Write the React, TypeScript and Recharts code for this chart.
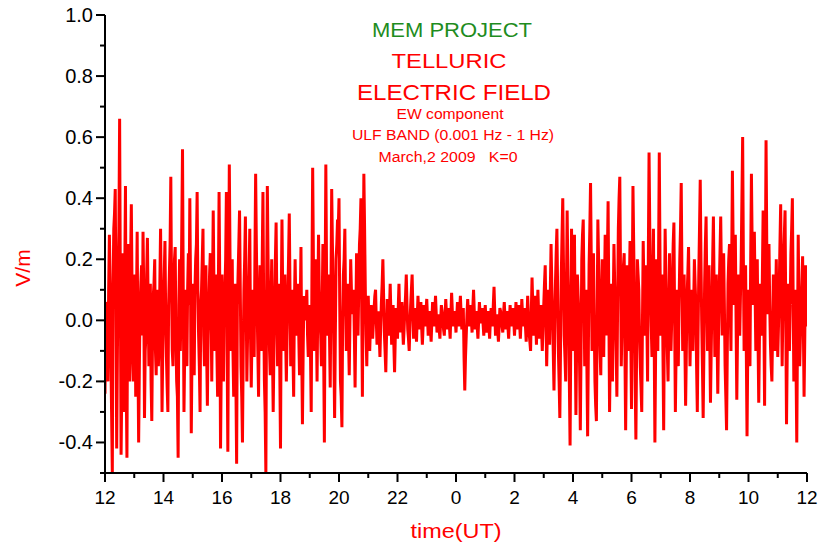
import { LineChart, Line, XAxis, YAxis } from "recharts";

// EW component, sampled every 1.5 minutes starting 12:00 UT on March 1.
// The main samples sit on the 3-minute grid, the "half" samples fall between them.
const startHour = 12;
const stepHours = 0.05;

const ew12to18 = [
  -0.24, 0.06, -0.2, 0.28, -0.1, -0.5, 0.3, 0.43, -0.42, 0.15, 0.66, -0.44, 0.22, -0.3, 0.44, -0.45, 0.25, -0.2, 0.38, -0.12,
  0.1, -0.25, 0.29, -0.4, 0.05, 0.18, 0.29, -0.32, -0.05, 0.27, -0.15, 0.12, -0.33, 0.08, 0.2, -0.18, 0.1, -0.08, 0.3, -0.3,
  0.05, 0.26, -0.12, -0.3, 0.15, 0.47, -0.1, 0.08, 0.24, -0.2, -0.45, 0.2, 0.05, 0.56, -0.3, 0.1, -0.15, 0.22, 0.4, -0.37,
  0.12, -0.18, 0.2, 0.42, -0.05, -0.3, 0.1, 0.3, -0.15, 0.18, -0.28, 0.05, 0.22, -0.2, 0.36, -0.1, 0.15, -0.25, 0.42, -0.42,
  0.15, -0.2, 0.1, 0.42, -0.43, 0.51, -0.1, 0.2, -0.25, 0.12, -0.47, 0.15, 0.36, -0.15, -0.4, 0.1, 0.34, -0.2, 0.05, 0.3,
  -0.22, 0.1, -0.12, 0.48, 0.05, -0.25, 0.18, -0.1, 0.42, -0.2, -0.5, 0.44, 0.02, -0.18, 0.2, -0.3, 0.05, 0.32, -0.15, 0.12,
];

const ew18to24 = [
  -0.42, 0.33, -0.1, 0.15, -0.2, 0.08, 0.35, -0.15, 0.1, -0.25, 0.2, -0.05, 0.12, -0.18, 0.24, -0.34, 0.08, 0.0, 0.1, -0.12,
  0.05, -0.3, 0.5, -0.1, 0.2, -0.2, 0.28, 0.0, -0.15, 0.25, -0.4, 0.51, -0.05, 0.15, -0.22, 0.43, 0.1, -0.32, 0.2, 0.33,
  0.4, -0.2, -0.35, 0.15, 0.3, -0.1, 0.12, -0.18, 0.2, 0.02, 0.1, -0.22, 0.22, -0.05, 0.25, 0.4, -0.25, 0.48, 0.1, -0.15,
  0.08, -0.1, 0.05, -0.06, 0.04, 0.1, -0.08, 0.03, -0.12, 0.06, 0.2, -0.04, -0.17, 0.07, -0.05, 0.12, -0.08, 0.05, -0.17, 0.04,
  -0.06, 0.12, -0.04, 0.06, -0.08, 0.03, 0.15, -0.03, -0.1, 0.05, 0.15, -0.06, 0.04, -0.07, 0.08, -0.03, 0.06, -0.08, 0.05, -0.02,
  0.07, -0.05, 0.03, -0.07, 0.06, -0.02, 0.08, -0.04, 0.02, -0.06, 0.05, 0.0, -0.05, 0.07, -0.03, 0.04, -0.06, 0.09, -0.02, 0.03,
];

const ew00to06 = [
  -0.04, 0.06, -0.02, 0.08, -0.03, 0.04, -0.23, -0.05, 0.07, -0.02, 0.05, -0.04, 0.1, -0.03, 0.03, -0.06, 0.06, -0.01, 0.04, -0.05,
  0.05, -0.04, 0.03, -0.06, 0.04, -0.02, 0.11, -0.05, 0.02, -0.07, 0.04, 0.01, -0.04, 0.06, -0.03, 0.03, -0.06, 0.05, -0.02, 0.04,
  -0.05, 0.06, -0.03, 0.05, -0.06, 0.07, -0.02, 0.04, -0.07, 0.08, -0.04, -0.1, 0.14, -0.05, 0.08, -0.08, 0.1, -0.06, 0.05, -0.1,
  0.05, 0.18, -0.15, 0.1, -0.08, 0.25, 0.02, -0.23, 0.12, 0.3, -0.1, -0.32, 0.15, 0.4, -0.05, -0.2, 0.36, 0.05, -0.41, 0.3,
  -0.1, 0.28, -0.31, 0.15, 0.02, -0.36, 0.2, 0.33, -0.15, 0.1, -0.38, 0.18, 0.45, -0.1, 0.22, -0.2, -0.33, 0.33, 0.05, -0.18,
  0.2, -0.12, 0.28, -0.05, 0.39, -0.3, 0.12, -0.2, 0.25, 0.02, -0.25, 0.3, 0.47, -0.15, 0.1, 0.22, -0.36, 0.18, -0.1, 0.26,
];

const ew06to12 = [
  -0.29, 0.44, 0.05, -0.39, 0.2, 0.1, -0.15, -0.3, 0.26, -0.05, 0.18, -0.2, 0.55, 0.1, -0.12, 0.3, -0.4, 0.2, -0.1, 0.55,
  -0.05, 0.15, -0.36, 0.3, 0.02, -0.2, 0.22, -0.1, 0.12, 0.32, -0.3, 0.1, -0.15, 0.2, 0.45, -0.1, 0.15, -0.28, 0.08, 0.24,
  -0.15, 0.1, -0.1, 0.2, 0.05, -0.3, 0.15, 0.46, 0.0, -0.32, 0.12, 0.34, -0.1, 0.18, -0.27, 0.05, 0.34, -0.12, 0.15, -0.24,
  0.1, 0.34, -0.05, 0.22, -0.15, -0.36, 0.12, 0.25, -0.1, 0.49, 0.05, 0.28, -0.26, 0.15, -0.05, 0.2, 0.6, -0.1, 0.18, -0.38,
  0.1, -0.15, 0.48, 0.05, 0.29, -0.1, 0.2, -0.27, 0.12, -0.05, 0.36, -0.28, 0.59, 0.02, 0.25, -0.08, -0.2, 0.15, -0.1, 0.2,
  -0.12, 0.1, 0.38, -0.15, 0.2, 0.36, -0.34, 0.12, -0.1, 0.22, 0.4, -0.2, 0.1, -0.4, 0.28, -0.15, 0.05, 0.21, -0.25, 0.18, -0.02,
];

// half-step samples between the grid points above
const half12to18 = [
  0.05, -0.12, 0.1, 0.12, -0.3, 0.1, 0.35, 0.05, -0.1, 0.3, 0.1, -0.2, 0.05, 0.15, -0.2, 0.1, -0.05, 0.2, 0.1, -0.2,
  0.15, 0.05, -0.1, -0.15, 0.12, -0.05, 0.1, -0.1, 0.15, 0.05, -0.02, -0.2, -0.05, 0.12, -0.1, 0.05, -0.15, 0.12, 0.05, -0.1,
  0.15, 0.02, -0.22, 0.05, 0.25, 0.1, -0.15, 0.2, -0.05, -0.25, 0.05, -0.1, 0.3, 0.1, -0.1, -0.05, 0.1, 0.05, 0.1, -0.1,
  -0.05, 0.1, 0.25, 0.1, -0.15, 0.05, 0.2, -0.05, 0.05, -0.1, -0.05, 0.15, 0.05, 0.1, 0.1, 0.05, -0.1, 0.1, 0.1, -0.15,
  -0.05, 0.05, 0.2, -0.1, 0.1, 0.2, 0.05, -0.1, -0.05, -0.2, 0.05, 0.25, 0.1, -0.25, -0.1, 0.2, 0.1, -0.05, 0.15, -0.05,
  -0.05, 0.05, 0.2, 0.25, -0.1, 0.05, 0.05, 0.2, 0.05, -0.3, 0.1, 0.2, -0.1, 0.05, -0.1, -0.1, 0.2, 0.05, -0.05, -0.15,
];

const half18to24 = [
  0.05, 0.1, 0.05, -0.05, -0.05, 0.2, 0.1, 0.0, -0.1, 0.05, 0.05, 0.05, -0.05, 0.05, -0.1, -0.1, 0.05, 0.05, -0.05, -0.05,
  -0.1, 0.15, 0.2, 0.05, 0.0, 0.05, 0.1, -0.05, 0.05, -0.1, 0.1, 0.15, 0.05, -0.05, 0.1, 0.25, -0.1, -0.05, 0.25, 0.3,
  0.05, -0.25, 0.0, 0.2, 0.05, 0.02, -0.05, 0.0, 0.1, 0.05, -0.05, 0.0, 0.08, 0.1, 0.3, 0.05, 0.15, 0.3, -0.05, 0.0,
  -0.02, -0.02, 0.0, -0.01, 0.08, 0.0, -0.03, -0.05, -0.02, 0.12, 0.08, -0.1, -0.05, 0.0, 0.03, 0.02, -0.02, -0.08, -0.05, -0.03,
  0.04, 0.02, 0.01, -0.02, -0.03, 0.08, 0.05, -0.06, -0.02, 0.1, 0.04, -0.01, -0.02, 0.01, 0.02, 0.02, -0.02, -0.02, 0.02, 0.03,
  0.01, -0.01, -0.03, 0.0, 0.02, 0.03, 0.02, -0.01, -0.03, 0.0, 0.03, -0.03, 0.01, 0.02, 0.0, -0.02, 0.02, 0.03, 0.0, 0.0,
];

const half00to06 = [
  0.01, 0.02, 0.03, 0.02, 0.0, -0.12, -0.12, 0.02, 0.02, 0.02, 0.0, 0.04, 0.03, 0.0, -0.02, 0.0, 0.02, 0.01, -0.01, 0.0,
  0.0, 0.0, -0.02, 0.0, 0.01, 0.05, 0.03, -0.02, -0.03, -0.02, 0.03, -0.02, 0.02, 0.01, 0.0, -0.02, 0.0, 0.01, 0.01, 0.0,
  0.0, 0.01, 0.01, -0.01, 0.0, 0.02, 0.01, -0.02, 0.0, 0.02, -0.07, 0.03, 0.05, 0.02, 0.0, 0.02, 0.02, 0.0, -0.03, -0.03,
  0.12, 0.02, -0.03, 0.0, 0.1, 0.12, -0.1, -0.05, 0.22, 0.1, -0.2, -0.08, 0.28, 0.18, -0.12, 0.1, 0.15, -0.2, -0.05, 0.1,
  0.1, -0.05, -0.08, 0.08, -0.15, -0.1, 0.28, 0.1, -0.02, -0.15, -0.1, 0.3, 0.2, 0.05, 0.0, -0.28, 0.0, 0.2, -0.1, 0.05,
  0.05, 0.1, 0.1, 0.2, 0.05, -0.1, -0.05, 0.05, 0.12, -0.1, 0.05, 0.4, 0.15, -0.02, 0.18, -0.1, -0.1, 0.05, 0.1, -0.05,
];

const half06to12 = [
  0.1, 0.25, -0.2, -0.1, 0.15, -0.05, -0.22, 0.0, 0.1, 0.05, 0.0, 0.2, 0.3, -0.02, 0.1, -0.05, -0.1, 0.05, 0.2, 0.2,
  0.05, -0.1, 0.0, 0.15, -0.1, 0.0, 0.05, 0.0, 0.25, 0.0, -0.1, 0.0, 0.05, 0.3, 0.15, 0.02, -0.08, -0.1, 0.15, 0.05,
  -0.02, 0.0, 0.05, 0.12, -0.15, -0.05, 0.3, 0.2, -0.15, -0.1, 0.25, 0.1, 0.05, -0.05, -0.1, 0.2, 0.1, 0.02, -0.05, -0.05,
  0.22, 0.15, 0.1, 0.05, -0.25, -0.1, 0.2, 0.05, 0.2, 0.25, 0.15, 0.0, -0.05, 0.05, 0.08, 0.4, 0.2, 0.05, -0.1, -0.1,
  -0.05, 0.2, 0.25, 0.15, 0.1, 0.05, -0.05, -0.05, 0.02, 0.15, 0.02, 0.15, 0.25, 0.12, 0.05, -0.15, -0.02, 0.02, 0.05, 0.02,
  -0.02, 0.25, 0.1, 0.02, 0.28, 0.0, -0.1, 0.0, 0.05, 0.3, 0.1, -0.05, -0.15, -0.05, 0.05, -0.05, 0.12, -0.02, -0.05, 0.08,
];

const xTicks = [12, 13, 14, 15, 16, 17, 18, 19, 20, 21, 22, 23, 24, 25, 26, 27, 28, 29, 30, 31, 32, 33, 34, 35, 36];
const yTicks = [-0.5, -0.4, -0.3, -0.2, -0.1, 0, 0.1, 0.2, 0.3, 0.4, 0.5, 0.6, 0.7, 0.8, 0.9, 1.0];

const ew = [...ew12to18, ...ew18to24, ...ew00to06, ...ew06to12];
const half = [...half12to18, ...half18to24, ...half00to06, ...half06to12];

const data: { t: number; v: number }[] = [];
ew.forEach((v, i) => {
  const t = startHour + i * stepHours;
  data.push({ t, v });
  if (i < half.length) data.push({ t: t + stepHours / 2, v: half[i] });
});

const FONT = "'Liberation Sans', Arial, sans-serif";

function YTick({ x, y, payload }: any) {
  const v = payload.value as number;
  const major = Math.round(v * 10) % 2 === 0;
  return (
    <g>
      <line x1={x} x2={x - (major ? 9 : 5)} y1={y} y2={y} stroke="#000" strokeWidth={2} />
      {major && (
        <text
          x={x - 12}
          y={y}
          textAnchor="end"
          dominantBaseline="central"
          fontFamily={FONT}
          fontSize={20}
          fill="#000"
        >
          {v.toFixed(1)}
        </text>
      )}
    </g>
  );
}

function XTick({ x, y, payload }: any) {
  const h = payload.value as number;
  const major = h % 2 === 0;
  return (
    <g>
      <line x1={x} x2={x} y1={y} y2={y + (major ? 9 : 5)} stroke="#000" strokeWidth={2} />
      {major && (
        <text
          x={x}
          y={y + 24}
          textAnchor="middle"
          dominantBaseline="central"
          fontFamily={FONT}
          fontSize={19}
          fill="#000"
        >
          {h % 24}
        </text>
      )}
    </g>
  );
}

export default function App() {
  return (
    <div style={{ position: "absolute", left: 0, top: 0, width: 823, height: 548, background: "#fff" }}>
      <LineChart width={823} height={548} data={data} margin={{ top: 15, right: 16, bottom: 0, left: 0 }}>
        <XAxis
          type="number"
          dataKey="t"
          domain={[12, 36]}
          ticks={xTicks}
          interval={0}
          height={75}
          tickSize={0}
          tickMargin={0}
          tickLine={false}
          axisLine={{ stroke: "#000", strokeWidth: 2 }}
          tick={<XTick />}
          allowDataOverflow
        />
        <YAxis
          type="number"
          domain={[-0.5, 1]}
          ticks={yTicks}
          interval={0}
          width={105}
          tickSize={0}
          tickMargin={0}
          tickLine={false}
          axisLine={{ stroke: "#000", strokeWidth: 2 }}
          tick={<YTick />}
          allowDataOverflow
        />
        <Line
          type="linear"
          dataKey="v"
          stroke="#ff0000"
          strokeWidth={3}
          strokeLinejoin="miter"
          strokeMiterlimit={2}
          dot={false}
          isAnimationActive={false}
        />
      </LineChart>
      <svg
        width={823}
        height={548}
        style={{ position: "absolute", left: 0, top: 0, pointerEvents: "none" }}
        fontFamily={FONT}
      >
        <text x={452} y={30} textAnchor="middle" dominantBaseline="central" fontSize={20} fill="#1e8c1e" textLength={160} lengthAdjust="spacingAndGlyphs">
          MEM PROJECT
        </text>
        <text x={449} y={60} textAnchor="middle" dominantBaseline="central" fontSize={21} fill="#ff0000" textLength={115} lengthAdjust="spacingAndGlyphs">
          TELLURIC
        </text>
        <text x={454} y={92} textAnchor="middle" dominantBaseline="central" fontSize={22} fill="#ff0000" textLength={194} lengthAdjust="spacingAndGlyphs">
          ELECTRIC FIELD
        </text>
        <text x={450} y={114} textAnchor="middle" dominantBaseline="central" fontSize={14} fill="#ff0000" textLength={107} lengthAdjust="spacingAndGlyphs">
          EW component
        </text>
        <text x={453} y={135} textAnchor="middle" dominantBaseline="central" fontSize={14} fill="#ff0000" textLength={202} lengthAdjust="spacingAndGlyphs">
          ULF BAND (0.001 Hz - 1 Hz)
        </text>
        <text x={448} y={157} textAnchor="middle" dominantBaseline="central" fontSize={14} fill="#ff0000" textLength={139} lengthAdjust="spacingAndGlyphs" xmlSpace="preserve">
          March,2 2009   K=0
        </text>
        <text
          x={22}
          y={268}
          textAnchor="middle"
          dominantBaseline="central"
          fontSize={21}
          fill="#ff0000"
          transform="rotate(-90 22 268)"
        >
          V/m
        </text>
        <text x={456} y={530} textAnchor="middle" dominantBaseline="central" fontSize={21} fill="#ff0000" textLength={91} lengthAdjust="spacingAndGlyphs">
          time(UT)
        </text>
      </svg>
    </div>
  );
}
